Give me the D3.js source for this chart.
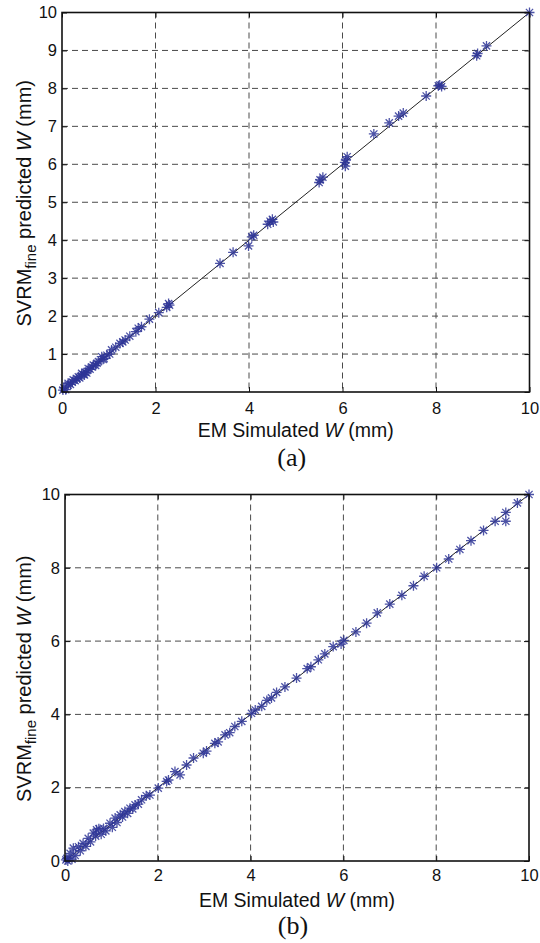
<!DOCTYPE html>
<html>
<head>
<meta charset="utf-8">
<script src="https://cdn.jsdelivr.net/npm/d3@7"></script>
<style>
  body { margin: 0; background: #fff; }
  svg { display: block; }
  .tick text { font-family: 'Liberation Sans', Arial, sans-serif; font-size: 16.5px; fill: #111; }
  .label { font-family: 'Liberation Sans', Arial, sans-serif; font-size: 19.5px; fill: #111; }
  .ylabel { font-family: 'Liberation Sans', Arial, sans-serif; font-size: 20px; fill: #111; }
  .caption { font-family: 'Liberation Serif', 'Times New Roman', serif; font-size: 26px; fill: #111; }
</style>
</head>
<body>
<svg id="chart" width="540" height="943"></svg>
<script>
// panel (a): EM simulated W vs SVRM_fine predicted W
const simA = [0.02, 0.04, 0.08, 0.13, 0.13, 0.18, 0.22, 0.24, 0.28, 0.32, 0.35, 0.38, 0.42, 0.45, 0.48, 0.5, 0.53, 0.56, 0.6, 0.64, 0.67, 0.72, 0.75, 0.78, 0.85, 0.88, 0.9, 0.96, 1.02, 1.06, 1.15, 1.24, 1.3, 1.35, 1.45, 1.58, 1.63, 1.7, 1.87, 2.07, 2.24, 2.3, 2.28, 3.38, 3.66, 3.99, 4.06, 4.1, 4.4, 4.45, 4.5, 4.52, 5.5, 5.52, 5.58, 6.05, 6.07, 6.1, 6.06, 6.67, 7.0, 7.2, 7.3, 7.79, 8.05, 8.08, 8.12, 8.87, 8.89, 9.08, 10]
const predA = [0.05, 0.11, 0.06, 0.18, 0.23, 0.2, 0.26, 0.32, 0.3, 0.35, 0.4, 0.37, 0.49, 0.46, 0.45, 0.52, 0.5, 0.62, 0.6, 0.66, 0.71, 0.7, 0.76, 0.8, 0.93, 0.86, 0.88, 0.97, 1.0, 1.11, 1.18, 1.28, 1.32, 1.37, 1.47, 1.59, 1.68, 1.72, 1.92, 2.09, 2.23, 2.29, 2.33, 3.39, 3.68, 3.85, 4.09, 4.13, 4.42, 4.5, 4.55, 4.48, 5.52, 5.59, 5.66, 6.05, 6.11, 6.2, 5.95, 6.8, 7.09, 7.27, 7.35, 7.8, 8.07, 8.09, 8.05, 8.86, 8.92, 9.12, 10]

// panel (b)
const simB = [0.02, 0.06, 0.04, 0.11, 0.15, 0.18, 0.22, 0.29, 0.33, 0.39, 0.45, 0.5, 0.55, 0.61, 0.66, 0.68, 0.73, 0.78, 0.83, 0.88, 0.97, 1.02, 1.08, 1.12, 1.19, 1.24, 1.29, 1.35, 1.4, 1.46, 1.51, 1.58, 1.65, 1.75, 1.83, 2.01, 2.19, 2.23, 2.37, 2.48, 2.62, 2.77, 2.98, 3.05, 3.23, 3.3, 3.45, 3.55, 3.66, 3.81, 4.02, 4.1, 4.24, 4.35, 4.45, 4.56, 4.74, 4.99, 5.22, 5.3, 5.46, 5.6, 5.78, 5.95, 6.01, 6.27, 6.5, 6.73, 7.0, 7.26, 7.51, 7.74, 8.01, 8.27, 8.51, 8.75, 9.02, 9.27, 9.5, 9.5, 9.75, 10]
const predB = [0.03, 0.0, 0.07, 0.21, 0.05, 0.35, 0.15, 0.39, 0.28, 0.48, 0.4, 0.62, 0.52, 0.76, 0.68, 0.85, 0.88, 0.73, 0.89, 0.82, 1.03, 0.92, 1.17, 1.05, 1.26, 1.2, 1.35, 1.3, 1.44, 1.42, 1.53, 1.55, 1.67, 1.78, 1.8, 1.99, 2.17, 2.21, 2.44, 2.35, 2.62, 2.81, 2.94, 3.0, 3.21, 3.25, 3.44, 3.5, 3.67, 3.81, 4.03, 4.12, 4.22, 4.38, 4.45, 4.6, 4.75, 4.99, 5.25, 5.3, 5.49, 5.65, 5.85, 5.92, 6.02, 6.25, 6.49, 6.77, 7.01, 7.25, 7.51, 7.77, 8.0, 8.24, 8.5, 8.74, 9.02, 9.27, 9.51, 9.27, 9.77, 10]

const xTicks = [0, 2, 4, 6, 8, 10]
const yTicksA = [0, 1, 2, 3, 4, 5, 6, 7, 8, 9, 10]
const yTicksB = [0, 2, 4, 6, 8, 10]
const domainW = [0, 10]

const svg = d3.select('#chart')

function asterisk(g, r) {
	const d = r * 0.72
	g.append('path').attr('d', `M${-r},0H${r}M0,${-r}V${r}M${-d},${-d}L${d},${d}M${-d},${d}L${d},${-d}`)
}

function drawPanel(opts) {
	const { left, right, top, bottom, sim, pred, yTicks, caption, tickLabelPad, labelY, captionY } = opts
	const x = d3.scaleLinear().domain(domainW).range([left, right])
	const y = d3.scaleLinear().domain(domainW).range([bottom, top])
	const g = svg.append('g')

	// grid
	const grid = g.append('g').attr('stroke', '#4a4a4a').attr('stroke-width', 1).attr('stroke-dasharray', '6,4')
	grid.selectAll('.vg').data(xTicks.filter(t => t > 0 && t < 10)).join('line')
		.attr('x1', d => x(d)).attr('x2', d => x(d)).attr('y1', top).attr('y2', bottom)
	grid.selectAll('.hg').data(yTicks.filter(t => t > 0 && t < 10)).join('line')
		.attr('x1', left).attr('x2', right).attr('y1', d => y(d)).attr('y2', d => y(d))

	// axes with inward ticks
	const xAxis = d3.axisBottom(x).tickValues(xTicks).tickSize(-5).tickPadding(tickLabelPad).tickFormat(d3.format('d'))
	const yAxis = d3.axisLeft(y).tickValues(yTicks).tickSize(-5).tickPadding(5).tickFormat(d3.format('d'))
	g.append('g').attr('transform', `translate(0,${bottom})`).call(xAxis)
	g.append('g').attr('transform', `translate(${left},0)`).call(yAxis)
	g.append('g').attr('transform', `translate(0,${top})`).call(d3.axisTop(x).tickValues(xTicks).tickSize(-5).tickFormat(''))
	g.append('g').attr('transform', `translate(${right},0)`).call(d3.axisRight(y).tickValues(yTicks).tickSize(-5).tickFormat(''))
	g.selectAll('.domain').remove()
	g.selectAll('.tick line').attr('stroke', '#111')

	// reference line y = x
	g.append('line')
		.attr('x1', x(0)).attr('y1', y(0)).attr('x2', x(10)).attr('y2', y(10))
		.attr('stroke', '#222').attr('stroke-width', 1)

	// points
	const pts = sim.map((s, i) => ({ s, p: pred[i] }))
	g.append('g').attr('stroke', '#2e3596').attr('stroke-width', 1.3).attr('stroke-opacity', 0.85).attr('fill', 'none')
		.selectAll('g').data(pts).join('g')
		.attr('transform', d => `translate(${x(d.s)},${y(d.p)})`)
		.each(function () { asterisk(d3.select(this), 5) })

	// frame
	g.append('rect').attr('x', left).attr('y', top).attr('width', right - left).attr('height', bottom - top)
		.attr('fill', 'none').attr('stroke', '#111').attr('stroke-width', 1.6)

	// x label
	const xl = g.append('text').attr('class', 'label').attr('x', (left + right) / 2).attr('y', labelY).attr('text-anchor', 'middle')
	xl.append('tspan').text('EM Simulated ')
	xl.append('tspan').attr('font-style', 'italic').text('W')
	xl.append('tspan').text(' (mm)')

	// y label
	const cy = (top + bottom) / 2 + 1
	const yl = g.append('text').attr('class', 'ylabel').attr('text-anchor', 'middle')
		.attr('transform', `translate(31,${cy}) rotate(-90)`)
	yl.append('tspan').text('SVRM')
	yl.append('tspan').attr('font-size', '15px').attr('dy', 5).text('fine')
	yl.append('tspan').attr('dy', -5).text('  predicted ')
	yl.append('tspan').attr('font-style', 'italic').text('W')
	yl.append('tspan').text(' (mm)')

	g.append('text').attr('class', 'caption').attr('x', (left + right) / 2 - 4).attr('y', captionY)
		.attr('text-anchor', 'middle').text(caption)
}

drawPanel({ left: 62, right: 529.5, top: 12.5, bottom: 392, sim: simA, pred: predA, yTicks: yTicksA, caption: '(a)', tickLabelPad: 10, labelY: 437, captionY: 466 })
drawPanel({ left: 65, right: 529, top: 494.5, bottom: 861, sim: simB, pred: predB, yTicks: yTicksB, caption: '(b)', tickLabelPad: 8, labelY: 907, captionY: 934 })
</script>
</body>
</html>
